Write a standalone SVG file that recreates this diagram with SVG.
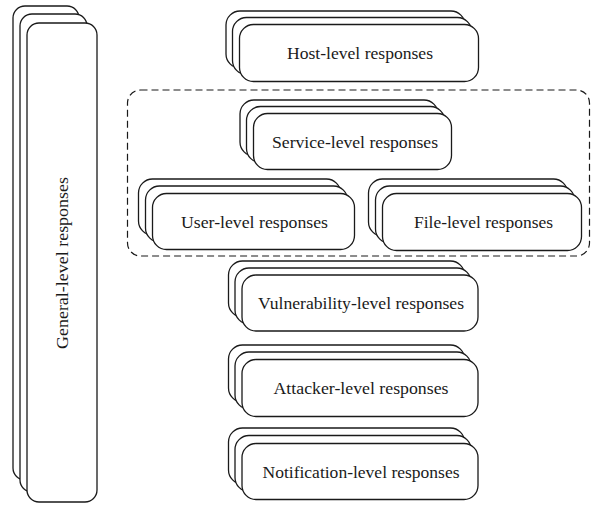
<svg xmlns="http://www.w3.org/2000/svg" width="592" height="505" viewBox="0 0 592 505">
  <style>
    .card { fill: #ffffff; stroke: #1a1a1a; stroke-width: 1.3; }
    .group { fill: none; stroke: #1a1a1a; stroke-width: 1.2; stroke-dasharray: 7 4; }
    .label { font-family: "Liberation Serif", "Times New Roman", serif; font-size: 16px; fill: #1a1a1a; text-anchor: middle; }
  </style>
  <rect width="592" height="505" fill="#ffffff"/>

  <!-- dashed grouping around service / user / file levels -->
  <g id="scope-group">
    <rect class="group" x="127.5" y="90" width="462" height="166" rx="13" ry="13"/>
  </g>

  <g id="general-level">
    <rect class="card" x="13" y="6" width="66" height="474" rx="12" ry="12"/>
    <rect class="card" x="20" y="14" width="67" height="478" rx="12" ry="12"/>
    <rect class="card" x="27" y="23" width="70" height="479" rx="12" ry="12"/>
    <text class="label" transform="translate(68 263) rotate(-90)" textLength="172" lengthAdjust="spacingAndGlyphs">General-level responses</text>
  </g>

  <g id="host-level">
    <rect class="card" x="226" y="11" width="239" height="57" rx="14" ry="14"/>
    <rect class="card" x="232.5" y="17.5" width="239" height="57" rx="14" ry="14"/>
    <rect class="card" x="239.5" y="24.5" width="239" height="57" rx="14" ry="14"/>
    <text class="label" x="360" y="59" textLength="146" lengthAdjust="spacingAndGlyphs">Host-level responses</text>
  </g>

  <g id="service-level">
    <rect class="card" x="240" y="100" width="198" height="56" rx="14" ry="14"/>
    <rect class="card" x="246.5" y="106.5" width="198" height="56" rx="14" ry="14"/>
    <rect class="card" x="253.5" y="113.5" width="198" height="56" rx="14" ry="14"/>
    <text class="label" x="355" y="147.5" textLength="166" lengthAdjust="spacingAndGlyphs">Service-level responses</text>
  </g>

  <g id="user-level">
    <rect class="card" x="138.5" y="179" width="202" height="56" rx="14" ry="14"/>
    <rect class="card" x="145.5" y="186" width="202" height="56" rx="14" ry="14"/>
    <rect class="card" x="152.5" y="193.5" width="202" height="56" rx="14" ry="14"/>
    <text class="label" x="254.5" y="227.5" textLength="147" lengthAdjust="spacingAndGlyphs">User-level responses</text>
  </g>

  <g id="file-level">
    <rect class="card" x="368.5" y="179" width="199" height="57" rx="14" ry="14"/>
    <rect class="card" x="375.5" y="186" width="199" height="57" rx="14" ry="14"/>
    <rect class="card" x="382.5" y="193.5" width="199" height="57" rx="14" ry="14"/>
    <text class="label" x="483.5" y="227.5" textLength="139" lengthAdjust="spacingAndGlyphs">File-level responses</text>
  </g>

  <g id="vulnerability-level">
    <rect class="card" x="228.5" y="261" width="236" height="56" rx="14" ry="14"/>
    <rect class="card" x="235" y="268" width="236" height="56" rx="14" ry="14"/>
    <rect class="card" x="242" y="275" width="236" height="56" rx="14" ry="14"/>
    <text class="label" x="361" y="309" textLength="206" lengthAdjust="spacingAndGlyphs">Vulnerability-level responses</text>
  </g>

  <g id="attacker-level">
    <rect class="card" x="228.5" y="345" width="236" height="57" rx="14" ry="14"/>
    <rect class="card" x="235" y="352" width="236" height="57" rx="14" ry="14"/>
    <rect class="card" x="242" y="359.5" width="236" height="57" rx="14" ry="14"/>
    <text class="label" x="361" y="393.5" textLength="175" lengthAdjust="spacingAndGlyphs">Attacker-level responses</text>
  </g>

  <g id="notification-level">
    <rect class="card" x="228.5" y="428" width="236" height="56" rx="14" ry="14"/>
    <rect class="card" x="235" y="435.5" width="236" height="56" rx="14" ry="14"/>
    <rect class="card" x="242" y="443.5" width="236" height="56" rx="14" ry="14"/>
    <text class="label" x="361" y="477.5" textLength="197" lengthAdjust="spacingAndGlyphs">Notification-level responses</text>
  </g>

  <!-- no connectors in this figure -->
  <g id="connectors"/>
</svg>
